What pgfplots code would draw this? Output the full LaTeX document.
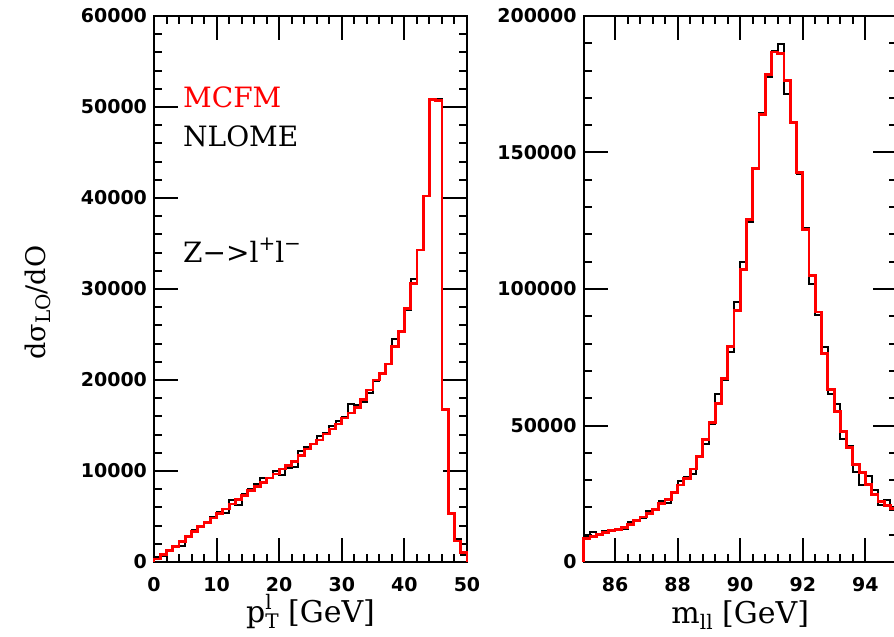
\documentclass[border=0pt]{standalone}
\usepackage{fontspec}
\usepackage{pgfplots}
\pgfplotsset{compat=1.18}
\newfontfamily\tickfont{DejaVu Sans}
\newfontfamily\labfont{DejaVu Serif}
\newcommand\supr[1]{\raisebox{0.45em}{\fontsize{10}{12}\selectfont#1}}
\newcommand\subr[1]{\raisebox{-0.2em}{\fontsize{10}{12}\selectfont#1}}
\begin{document}
\begin{tikzpicture}
\pgfplotsset{
  myaxis/.style={
    scale only axis, width=156.5pt, height=273pt,
    axis line style={line width=1pt},
    tick align=inside,
    xtick pos=both, ytick pos=both,
    xticklabel pos=lower, yticklabel pos=left,
    major tick length=12pt, minor tick length=4pt,
    major tick style={line width=1pt,black},
    minor tick style={line width=1pt,black},
    minor x tick num=4, minor y tick num=4,
    scaled y ticks=false, scaled x ticks=false,
    /pgf/number format/assume math mode=true,
    tick label style={font=\fontsize{9.5}{11}\selectfont\tickfont\bfseries},
    yticklabel style={/pgf/number format/fixed, /pgf/number format/1000 sep={}},
    xticklabel style={yshift=-4.3pt, /pgf/number format/fixed},
    label style={font=\fontsize{15}{18}\selectfont\labfont},
    xlabel style={at={(axis description cs:0.5,0)}, anchor=base, yshift=-30.5pt},
    clip=false,
  }
}
\begin{axis}[myaxis, name=L, at={(0pt,0pt)}, anchor=south west,
  xmin=0, xmax=50, ymin=0, ymax=60000,
  xtick={0,10,...,50}, ytick={0,10000,...,60000},
  xlabel={p\rlap{\supr{l}}\subr{T} [GeV]},
  ylabel={dσ\subr{LO}/dO},
  ylabel style={at={(axis description cs:-0.371,0.475)}, anchor=center, font=\fontsize{13.5}{16}\selectfont\labfont},
]
\addplot[const plot, black, line width=1pt] coordinates {
(0,0)(0,500)(1,700)(2,1350)(3,1700)(4,1750)(5,2850)(6,3500)(7,3850)(8,4400)(9,4900)
(10,5450)(11,5400)(12,6800)(13,6300)(14,7500)(15,8000)(16,8600)(17,9200)(18,9200)(19,9950)
(20,9600)(21,10300)(22,10400)(23,12250)(24,12600)(25,13000)(26,13850)(27,14200)(28,14900)(29,15500)
(30,15900)(31,17400)(32,17200)(33,17600)(34,18600)(35,19850)(36,20700)(37,21800)(38,24500)(39,25400)
(40,27700)(41,31100)(42,34300)(43,40200)(44,50900)(45,50900)(46,16800)(47,5300)(48,2500)(49,800)(50,0)};
\addplot[const plot, red, line width=1.4pt] coordinates {
(0,0)(0,340)(1,810)(2,1250)(3,1730)(4,2240)(5,2790)(6,3380)(7,3920)(8,4360)(9,4840)
(10,5350)(11,5830)(12,6380)(13,6850)(14,7290)(15,7840)(16,8280)(17,8760)(18,9230)(19,9670)
(20,10220)(21,10590)(22,11060)(23,11680)(24,12420)(25,12960)(26,13400)(27,14060)(28,14610)(29,15160)
(30,15820)(31,16370)(32,16990)(33,17900)(34,18900)(35,20000)(36,20700)(37,21760)(38,23660)(39,25310)
(40,27875)(41,30620)(42,34290)(43,40220)(44,50800)(45,50700)(46,16780)(47,5350)(48,2310)(49,1030)(50,0)};
\node[anchor=base west, inner sep=0pt, text=red, font=\fontsize{14}{17}\selectfont\labfont] at (axis cs:4.6,50000) {MCFM};
\node[anchor=base west, inner sep=0pt, font=\fontsize{14}{17}\selectfont\labfont] at (axis cs:4.6,45700) {NLOME};
\node[anchor=base west, inner sep=0pt, font=\fontsize{14}{17}\selectfont\labfont] at (axis cs:4.6,32900) {Z−>l\supr{+}l\supr{−}};
\end{axis}
\begin{axis}[myaxis, name=R, at={(214.85pt,0pt)}, anchor=south west,
  xmin=85, xmax=95, ymin=0, ymax=200000,
  xtick={86,88,...,94}, ytick={0,50000,...,200000},
  xlabel={m\subr{ll} [GeV]},
]
\addplot[const plot, black, line width=1pt] coordinates {
(85.0,0)(85.0,9300)(85.2,10900)(85.4,10000)(85.6,11200)(85.8,11400)(86.0,11900)(86.2,12200)(86.4,14500)(86.6,15200)(86.8,16100)
(87.0,18800)(87.2,19000)(87.4,22300)(87.6,21700)(87.8,25700)(88.0,29500)(88.2,31300)(88.4,32200)(88.6,38900)(88.8,43400)
(89.0,50400)(89.2,61700)(89.4,66500)(89.6,77000)(89.8,95300)(90.0,109900)(90.2,124600)(90.4,143900)(90.6,164300)(90.8,177600)
(91.0,187200)(91.2,189800)(91.4,171300)(91.6,160900)(91.8,142300)(92.0,122400)(92.2,101800)(92.4,90500)(92.6,78800)(92.8,61600)
(93.0,57800)(93.2,45000)(93.4,42500)(93.6,33000)(93.8,28200)(94.0,31600)(94.2,26500)(94.4,20800)(94.6,22700)(94.8,19200)(95.0,0)};
\addplot[const plot, red, line width=1.4pt] coordinates {
(85.0,0)(85.0,8600)(85.2,9200)(85.4,10100)(85.6,10900)(85.8,11500)(86.0,12000)(86.2,12600)(86.4,13700)(86.6,15100)(86.8,16500)
(87.0,17900)(87.2,19200)(87.4,21300)(87.6,22800)(87.8,25400)(88.0,28200)(88.2,30500)(88.4,34100)(88.6,38500)(88.8,44800)
(89.0,51000)(89.2,58200)(89.4,67200)(89.6,78800)(89.8,92200)(90.0,107100)(90.2,125500)(90.4,144000)(90.6,163900)(90.8,178500)
(91.0,186800)(91.2,186300)(91.4,176400)(91.6,161100)(91.8,142600)(92.0,121900)(92.2,105000)(92.4,91600)(92.6,76500)(92.8,63100)
(93.0,55000)(93.2,47800)(93.4,41800)(93.6,35700)(93.8,32900)(94.0,28400)(94.2,24600)(94.4,22100)(94.6,20800)(94.8,19500)(95.0,0)};
\end{axis}
\pgfresetboundingbox
\useasboundingbox ([shift={(-77pt,-37.5pt)}]L.south west) rectangle ([shift={(370pt,281pt)}]L.south west);
\end{tikzpicture}
\end{document}
